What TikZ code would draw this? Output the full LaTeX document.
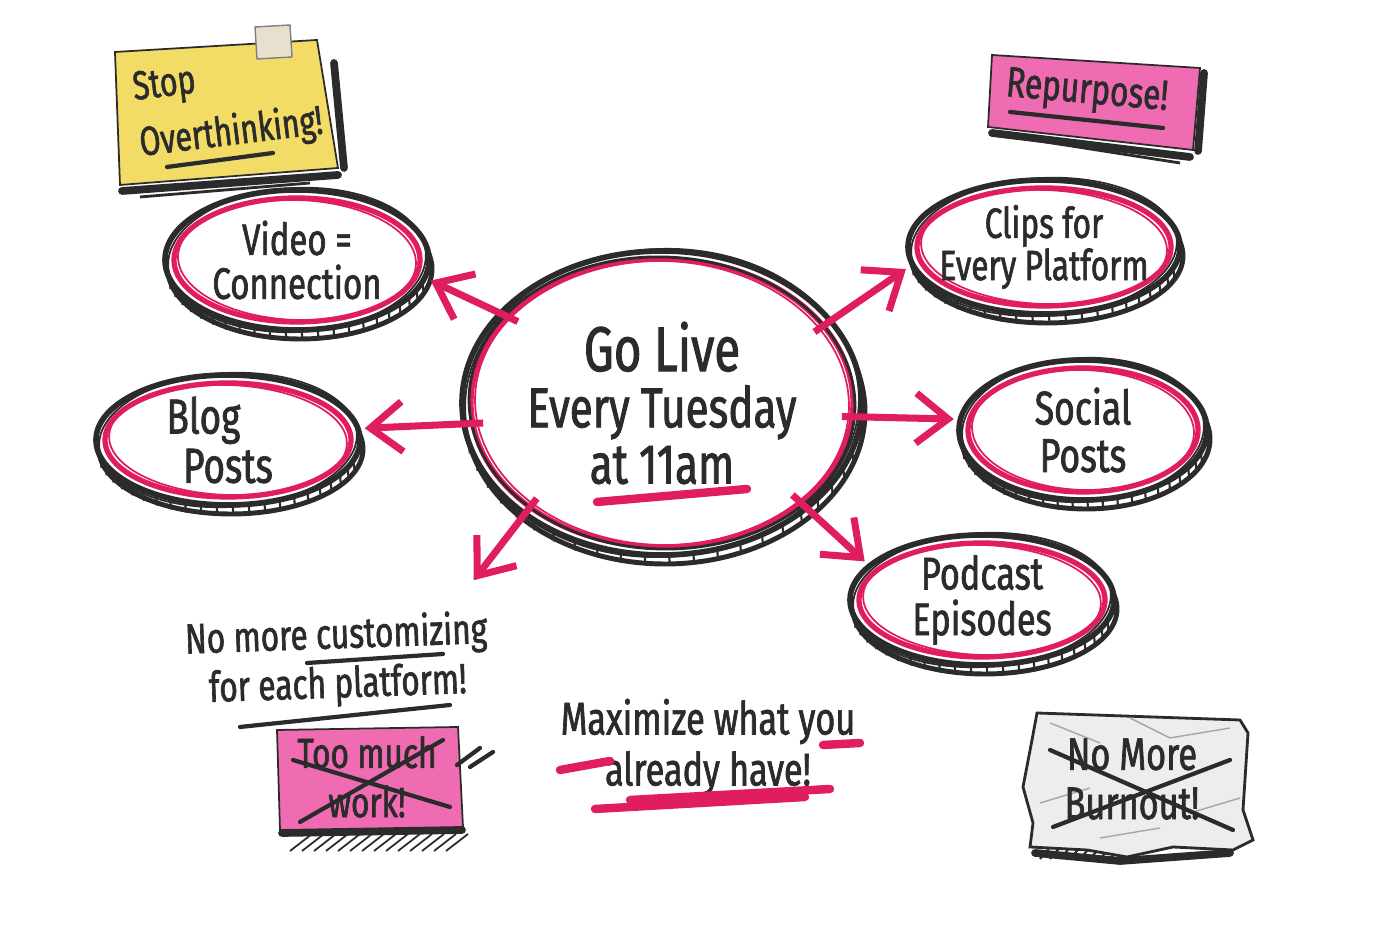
\documentclass[tikz,border=0pt]{standalone}
\usepackage{fontspec}
\setmainfont{Fira Sans}[FakeStretch=0.75, FakeBold=1.5]
\usepackage{xcolor}
\definecolor{ink}{HTML}{2B2B2B}
\definecolor{pinkink}{HTML}{E01E5E}
\definecolor{notepink}{HTML}{F06CB2}
\definecolor{noteyellow}{HTML}{F2DC66}
\definecolor{tape}{HTML}{E8E0CE}
\definecolor{paper}{HTML}{EDEDED}
\usepackage{tikz}
\usetikzlibrary{arrows.meta, calc, positioning, shapes.geometric}

\begin{document}
\begin{tikzpicture}[
	bubble/.style={ellipse, inner sep=-2pt, align=center, text=ink},
	txt/.style={align=center, text=ink, inner sep=0pt},
	arr/.style={pinkink, line width=2pt, -{Straight Barb[length=3.2mm, width=5mm]}, shorten <=-2mm, shorten >=0.6mm},
	note/.style={draw=ink, line width=0.5pt},
	shade/.style={ink, line width=2.2pt, line cap=round},
	scribble/.style={ink, line width=1.2pt, line cap=round},
	hl/.style={pinkink, line width=2.4pt, line cap=round},
	crease/.style={gray!70, line width=0.4pt}
]

\def \xw{14}
\def \xh{9.33}

% name, centre, x radius, y radius, font size, text
\newcommand{\bubble}[6]{
	\draw[ink, line width=1.4pt] ($(#2)+(0.03,-0.09)$) ellipse ({#3} and {#4}); % shadow ring
	\foreach \ang in {195,202,...,345}
		\draw[ink, line width=0.6pt] ($(#2)+(\ang:#3 and #4)$) -- ++(0.01,-0.11); % hatching
	\fill[white] (#2) ellipse ({#3} and {#4});
	\draw[ink, line width=1.6pt] (#2) ellipse ({#3} and {#4}); % outer ring
	\draw[ink, line width=0.5pt, rotate around={3:(#2)}] (#2) ellipse ({#3-0.03} and {#4+0.02});
	\draw[pinkink, line width=1.5pt] (#2) ellipse ({#3-0.09} and {#4-0.08}); % inner ring
	\draw[pinkink, line width=0.5pt, rotate around={-2:(#2)}] (#2) ellipse ({#3-0.13} and {#4-0.10});
	\node[bubble, minimum width={2*#3cm}, minimum height={2*#4cm}, font=\fontsize{#5}{#5}\selectfont] (#1) at (#2) {#6};
}

\useasboundingbox (0,0) rectangle (\xw,\xh);
\fill[white] (0,0) rectangle (\xw,\xh);

% yellow note
\draw[shade] (1.22,7.42) -- (3.38,7.58);
\draw[ink, line width=0.8pt] (1.40,7.36) -- (3.10,7.50);
\draw[shade] (3.34,8.70) -- (3.44,7.65);
\filldraw[note, fill=noteyellow] (1.15,8.81) -- (3.17,8.93) -- (3.38,7.65) -- (1.20,7.48) -- cycle;
\filldraw[draw=gray, fill=tape, line width=0.4pt] (2.55,9.06) -- (2.90,9.08) -- (2.92,8.76) -- (2.57,8.74) -- cycle; % tape
\node[txt, align=left, rotate=7, font=\fontsize{11.5}{16}\selectfont] (stop) at (2.28,8.26) {Stop\\Overthinking!};
\draw[scribble] (1.67,7.66) -- (2.73,7.80);

% pink note
\draw[shade] (9.92,8.00) -- (11.90,7.76);
\draw[ink, line width=0.8pt] (10.20,7.95) -- (11.80,7.70);
\draw[shade] (12.04,8.60) -- (11.98,7.82);
\filldraw[note, fill=notepink] (9.92,8.78) -- (12.00,8.65) -- (11.93,7.83) -- (9.88,8.06) -- cycle;
\node[txt, rotate=-5, font=\fontsize{12}{14}\selectfont] (repurpose) at (10.87,8.40) {Repurpose!};
\draw[scribble] (10.10,8.21) -- (11.63,8.05);

% bubbles
\bubble{live}{6.62,5.30}{2.00}{1.52}{16}{{\fontsize{18}{17}\selectfont Go Live}\\Every Tuesday\\at 11am}
\draw[ink, line width=0.8pt, rotate around={-2:(live)}] (live) ellipse (1.93 and 1.46);
\draw[hl] (5.97,4.31) -- (7.47,4.44); % 11am line
\bubble{video}{2.97,6.73}{1.32}{0.70}{12.5}{Video =\\Connection}
\bubble{blog}{2.28,4.93}{1.32}{0.65}{14}{Blog\hspace*{1em}\\Posts}
\bubble{clips}{10.44,6.86}{1.36}{0.67}{12}{Clips for\\Every Platform}
\bubble{social}{10.83,5.03}{1.24}{0.70}{13.5}{Social\\Posts}
\bubble{podcast}{9.82,3.33}{1.32}{0.65}{13}{Podcast\\Episodes}

% arrows
\coordinate (lowleft) at (4.70,3.48);
\draw[arr] (live.151.6) -- (video.-8.4);
\draw[arr] (live.26) -- (clips.188.6);
\draw[arr] (live.186.6) -- (blog.5);
\draw[arr] (live.-4.6) -- (social.175.4);
\draw[arr] (live.219.7) -- (lowleft);
\draw[arr] (live.-36) -- (podcast.163);

% bottom left
\node[txt, rotate=2, font=\fontsize{12}{14}\selectfont] (custom) at (3.37,2.72) {No more customizing\\for each platform!};
\draw[scribble] (3.07,2.70) -- (4.43,2.79);
\draw[scribble] (2.40,2.06) -- (4.50,2.28);
\foreach \x in {2.90,3.02,...,4.50}
	\draw[ink, line width=0.5pt] (\x,0.82) -- ++(0.22,0.17); % hatching
\draw[shade] (2.82,1.00) -- (4.62,1.03);
\filldraw[note, fill=notepink] (2.77,2.03) -- (4.58,2.06) -- (4.63,1.06) -- (2.80,1.03) -- cycle;
\node[txt, font=\fontsize{12}{14}\selectfont] (toomuch) at (3.67,1.56) {Too much\\work!};
\draw[scribble] (2.93,1.73) -- (4.50,1.26);
\draw[scribble] (3.00,1.11) -- (4.43,1.93);
\draw[scribble] (4.57,1.68) -- (4.80,1.85);
\draw[scribble] (4.70,1.66) -- (4.93,1.81);

% bottom middle
\node[txt, font=\fontsize{13}{14.5}\selectfont] (maximize) at (7.08,1.86) {Maximize what you\\already have!};
\draw[hl] (5.60,1.63) -- (6.10,1.72);
\draw[hl] (8.23,1.88) -- (8.60,1.90);
\draw[hl] (5.95,1.24) -- (8.05,1.36);
\draw[hl] (6.30,1.33) -- (8.30,1.44);

% bottom right
\draw[shade] (10.35,0.80) -- (11.20,0.72) -- (12.30,0.80);
\foreach \x in {10.40,10.50,...,11.30}
	\draw[ink, line width=0.6pt] (\x,0.74) -- ++(0.12,0.14);
\filldraw[draw=ink, fill=paper, line width=0.8pt] (10.37,2.20) -- (12.40,2.13) -- (12.48,2.00) -- (12.43,1.23) -- (12.53,0.93) -- (12.33,0.83) -- (11.73,0.86) -- (11.27,0.76) -- (10.87,0.83) -- (10.30,0.86) -- (10.33,1.10) -- (10.23,1.46) -- (10.32,1.93) -- cycle;
\draw[crease] (10.50,2.10) -- (11.00,1.90);
\draw[crease] (11.30,2.15) -- (11.70,1.95) -- (12.30,2.05);
\draw[crease] (10.40,1.30) -- (10.90,1.45);
\draw[crease] (11.90,1.20) -- (12.40,1.35);
\draw[crease] (11.00,0.95) -- (11.60,1.05);
\node[txt, font=\fontsize{13}{14}\selectfont] (burnout) at (11.32,1.54) {No More\\Burnout!};
\draw[scribble] (10.50,1.83) -- (12.33,1.03);
\draw[scribble] (10.53,1.06) -- (12.30,1.73);

\end{tikzpicture}
\end{document}
